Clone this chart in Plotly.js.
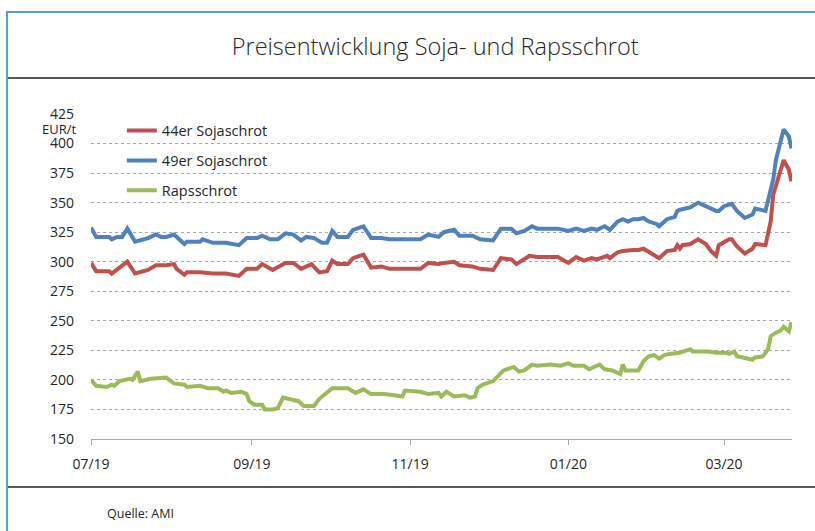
<!DOCTYPE html>
<html>
<head>
<meta charset="utf-8">
<script src="https://cdn.plot.ly/plotly-3.0.1.min.js"></script>
<style>
  html, body { margin: 0; padding: 0; background: #fff; }
  #wrap { position: relative; width: 815px; height: 531px; overflow: hidden; }
  #chart { position: absolute; left: 0; top: 0; width: 815px; height: 531px; }
  .frame { position: absolute; pointer-events: none; }
</style>
</head>
<body>
<div id="wrap">
  <div id="chart"></div>
  <div class="frame" style="left:6px; top:11px; width:2px; height:520px; background:#5B9BD5;"></div>
  <div class="frame" style="left:6px; top:11px; width:809px; height:2px; background:#5B9BD5;"></div>
  <div class="frame" style="left:8px; top:77px; width:807px; height:2px; background:#595959;"></div>
  <div class="frame" style="left:8px; top:486px; width:807px; height:2px; background:#595959;"></div>
</div>
<script>
const seriesNames = ['44er Sojaschrot', '49er Sojaschrot', 'Rapsschrot'];

const dates44 = ['2019-07-01','2019-07-03','2019-07-06','2019-07-08','2019-07-09','2019-07-15','2019-07-18','2019-07-23','2019-07-26','2019-07-30',
  '2019-08-02','2019-08-03','2019-08-06','2019-08-07','2019-08-12','2019-08-17','2019-08-22','2019-08-27','2019-08-30','2019-09-03',
  '2019-09-05','2019-09-09','2019-09-14','2019-09-17','2019-09-20','2019-09-24','2019-09-27','2019-09-30','2019-10-02','2019-10-04',
  '2019-10-08','2019-10-10','2019-10-14','2019-10-17','2019-10-21','2019-10-24','2019-11-05','2019-11-08','2019-11-12','2019-11-14',
  '2019-11-18','2019-11-20','2019-11-25','2019-11-28','2019-12-03','2019-12-06','2019-12-10','2019-12-12','2019-12-17','2019-12-20',
  '2019-12-28','2020-01-01','2020-01-04','2020-01-07','2020-01-10','2020-01-12','2020-01-16','2020-01-17','2020-01-20','2020-01-22',
  '2020-01-26','2020-01-28','2020-01-30','2020-02-03','2020-02-05','2020-02-08','2020-02-11','2020-02-12','2020-02-13','2020-02-14',
  '2020-02-17','2020-02-20','2020-02-23','2020-02-25','2020-02-27','2020-02-28','2020-03-03','2020-03-04','2020-03-06','2020-03-09',
  '2020-03-12','2020-03-13','2020-03-17','2020-03-19','2020-03-20','2020-03-24','2020-03-26','2020-03-27'];
const soja44 = [299,292,292,292,290,300,290,293,297,297,
  298,294,289,291,291,290,290,288,294,294,
  298,293,299,299,294,298,291,292,301,298,
  298,303,306,295,296,294,294,299,298,299,
  300,297,296,294,293,303,302,298,305,304,
  304,299,304,301,303,302,305,303,308,309,
  310,310,311,306,303,309,310,314,311,314,
  315,319,315,309,305,314,319,319,313,307,
  311,315,314,334,357,386,378,368];

const dates49 = ['2019-07-01','2019-07-03','2019-07-06','2019-07-08','2019-07-09','2019-07-11','2019-07-13','2019-07-15','2019-07-18','2019-07-23',
  '2019-07-26','2019-07-28','2019-07-30','2019-08-02','2019-08-06','2019-08-07','2019-08-12','2019-08-13','2019-08-17','2019-08-22',
  '2019-08-27','2019-08-30','2019-09-03','2019-09-05','2019-09-08','2019-09-11','2019-09-14','2019-09-17','2019-09-20','2019-09-22',
  '2019-09-25','2019-09-28','2019-09-30','2019-10-02','2019-10-04','2019-10-08','2019-10-10','2019-10-14','2019-10-17','2019-10-21',
  '2019-10-24','2019-10-28','2019-11-05','2019-11-08','2019-11-12','2019-11-14','2019-11-18','2019-11-20','2019-11-25','2019-11-28',
  '2019-12-03','2019-12-06','2019-12-10','2019-12-12','2019-12-15','2019-12-18','2019-12-20','2019-12-28','2020-01-01','2020-01-04',
  '2020-01-07','2020-01-10','2020-01-12','2020-01-15','2020-01-17','2020-01-20','2020-01-22','2020-01-24','2020-01-26','2020-01-28',
  '2020-01-30','2020-02-01','2020-02-04','2020-02-05','2020-02-08','2020-02-11','2020-02-12','2020-02-13','2020-02-17','2020-02-20',
  '2020-02-23','2020-02-27','2020-02-28','2020-03-01','2020-03-04','2020-03-06','2020-03-09','2020-03-12','2020-03-13','2020-03-17',
  '2020-03-20','2020-03-21','2020-03-24','2020-03-26','2020-03-27'];
const soja49 = [329,321,321,321,319,321,321,328,317,320,
  323,321,321,323,315,317,317,319,316,316,
  314,320,320,322,319,319,324,323,318,321,
  320,316,316,326,321,321,327,330,320,320,
  319,319,319,323,321,325,327,322,322,319,
  318,328,328,324,326,330,328,328,326,328,
  326,328,327,330,327,334,336,334,336,336,
  337,334,332,330,336,338,343,344,346,350,
  347,343,343,347,349,343,337,340,345,343,
  370,386,412,406,396];

const datesRaps = ['2019-07-01','2019-07-03','2019-07-07','2019-07-09','2019-07-10','2019-07-12','2019-07-16','2019-07-17','2019-07-19','2019-07-20',
  '2019-07-24','2019-07-28','2019-07-30','2019-08-02','2019-08-06','2019-08-07','2019-08-12','2019-08-15','2019-08-19','2019-08-21',
  '2019-08-22','2019-08-24','2019-08-28','2019-08-30','2019-08-31','2019-09-02','2019-09-05','2019-09-06','2019-09-09','2019-09-11',
  '2019-09-13','2019-09-17','2019-09-19','2019-09-21','2019-09-25','2019-09-27','2019-09-30','2019-10-02','2019-10-05','2019-10-08',
  '2019-10-11','2019-10-14','2019-10-17','2019-10-22','2019-10-26','2019-10-29','2019-10-30','2019-11-05','2019-11-08','2019-11-12',
  '2019-11-13','2019-11-15','2019-11-18','2019-11-22','2019-11-24','2019-11-26','2019-11-27','2019-11-29','2019-12-03','2019-12-05',
  '2019-12-07','2019-12-11','2019-12-13','2019-12-15','2019-12-18','2019-12-20','2019-12-25','2019-12-29','2020-01-01','2020-01-03',
  '2020-01-07','2020-01-09','2020-01-13','2020-01-15','2020-01-18','2020-01-21','2020-01-22','2020-01-23','2020-01-28','2020-01-30',
  '2020-02-01','2020-02-03','2020-02-05','2020-02-07','2020-02-09','2020-02-13','2020-02-17','2020-02-18','2020-02-24','2020-02-27',
  '2020-03-02','2020-03-03','2020-03-05','2020-03-06','2020-03-12','2020-03-13','2020-03-16','2020-03-18','2020-03-19','2020-03-21',
  '2020-03-23','2020-03-24','2020-03-26','2020-03-27'];
const raps = [200,195,194,196,195,199,201,200,207,199,
  201,202,202,197,196,194,195,193,193,190,
  191,189,190,188,182,179,179,175,175,176,
  185,183,182,178,178,184,189,193,193,193,
  189,192,188,188,187,186,191,190,188,189,
  186,190,186,187,185,186,193,196,199,203,
  208,211,207,208,213,212,213,212,214,212,
  212,209,213,209,208,205,213,208,208,216,
  220,221,218,221,222,223,226,224,224,223,
  223,222,224,220,217,219,220,226,237,240,
  242,245,241,249];

const xTickVals = ['2019-07-01','2019-09-01','2019-11-01','2020-01-01','2020-03-01'];
const xTickText = ['07/19','09/19','11/19','01/20','03/20'];
const yTickVals = [150,175,200,225,250,275,300,325,350,375,400,425];

const colors = ['#C0504D', '#4F81BD', '#9BBB59'];
const font = 'Open Sans, Noto Sans, sans-serif';

const traces = [
  {x: dates44, y: soja44, name: seriesNames[0]},
  {x: dates49, y: soja49, name: seriesNames[1]},
  {x: datesRaps, y: raps, name: seriesNames[2]}
].map((t, i) => Object.assign(t, {
  type: 'scatter', mode: 'lines',
  line: {color: colors[i], width: 4},
  legendgroup: 'g' + i
}));

const layout = {
  width: 815, height: 531,
  margin: {l: 91, r: 23, t: 114, b: 92},
  paper_bgcolor: '#fff', plot_bgcolor: '#fff',
  font: {family: font, color: '#262626', size: 14},
  title: {text: 'Preisentwicklung Soja- und Rapsschrot', x: 0.534, xanchor: 'center',
          y: 1 - 47/531, yanchor: 'middle', yref: 'container',
          font: {family: font, size: 23.5, color: '#262626', weight: 300}},
  showlegend: true,
  legend: {x: 0.044, y: 0.998, xanchor: 'left', yanchor: 'top', bgcolor: 'rgba(0,0,0,0)',
           font: {family: font, size: 14.5, color: '#262626'}, traceorder: 'grouped',
           tracegroupgap: 8, itemwidth: 30},
  xaxis: {type: 'date', range: ['2019-07-01', '2020-03-27 05:00'],
          tickvals: xTickVals, ticktext: xTickText,
          showgrid: false, zeroline: false, showline: true, linecolor: '#A6A6A6', linewidth: 1,
          ticks: 'outside', ticklen: 5, tickcolor: '#A6A6A6', tickwidth: 1,
          ticklabelstandoff: 7, tickfont: {family: font, size: 14, color: '#262626'}},
  yaxis: {range: [150, 425], tickvals: yTickVals, showgrid: true, gridcolor: '#A6A6A6',
          griddash: 'dot', gridwidth: 1, zeroline: false, showline: false, ticks: '',
          ticklabelstandoff: 16, tickfont: {family: font, size: 14, color: '#262626'}},
  annotations: [
    {text: 'EUR/t', xref: 'paper', yref: 'paper', x: -0.019, y: 0.953, xanchor: 'right', yanchor: 'middle',
     showarrow: false, font: {family: font, size: 13, color: '#262626'}},
    {text: 'Quelle: AMI', xref: 'paper', yref: 'paper', x: 0.02, y: -0.228, xanchor: 'left', yanchor: 'middle',
     showarrow: false, font: {family: font, size: 12.5, color: '#262626'}}
  ]
};

Plotly.newPlot('chart', traces, layout, {displayModeBar: false, staticPlot: true});
</script>
</body>
</html>
